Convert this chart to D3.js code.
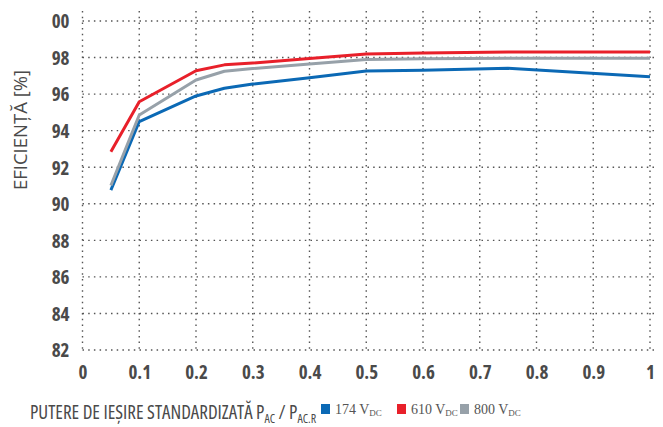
<!DOCTYPE html>
<html>
<head>
<meta charset="utf-8">
<script src="https://cdn.jsdelivr.net/npm/d3@7"></script>
<style>
  body { margin: 0; background: #fff; }
  svg text { font-family: "Open Sans", "DejaVu Sans Condensed", sans-serif; }
</style>
</head>
<body>
<div id="chart"></div>
<script>
// valori
var xVals = [0.05, 0.1, 0.2, 0.25, 0.3, 0.4, 0.5, 0.6, 0.75, 1];
var v174 = [90.75, 94.5, 95.9, 96.32, 96.55, 96.9, 97.26, 97.3, 97.41, 96.95];
var v610 = [92.85, 95.58, 97.28, 97.6, 97.7, 97.95, 98.2, 98.25, 98.3, 98.3];
var v800 = [91.0, 94.86, 96.77, 97.25, 97.4, 97.65, 97.9, 97.93, 97.96, 97.96];
var xTicks = [0, 0.1, 0.2, 0.3, 0.4, 0.5, 0.6, 0.7, 0.8, 0.9, 1];
var yTicks = [82, 84, 86, 88, 90, 92, 94, 96, 98, 100];
var seriesNames = ["174", "610", "800"];
var seriesColors = ["#0b69b5", "#e8202a", "#97a1a9"];

var width = 663, height = 427;
var svg = d3.select("#chart").append("svg")
    .attr("width", width)
    .attr("height", height);

var x = d3.scaleLinear().domain([0, 1]).range([82.5, 650]);
var y = d3.scaleLinear().domain([82, 100]).range([350, 21]);

// grila punctata
var grid = svg.append("g");
grid.selectAll("line.v")
    .data(xTicks)
    .join("line")
    .attr("x1", d => x(d)).attr("x2", d => x(d))
    .attr("y1", 11).attr("y2", 352)
    .attr("stroke", "#555")
    .attr("stroke-width", 1.4)
    .attr("stroke-dasharray", "1.5,4.2");
grid.selectAll("line.h")
    .data(yTicks)
    .join("line")
    .attr("x1", x(0)).attr("x2", 658)
    .attr("y1", d => y(d)).attr("y2", d => y(d))
    .attr("stroke", "#555")
    .attr("stroke-width", 1.4)
    .attr("stroke-dasharray", "1.5,4.2");

// axe (doar etichete)
var yAxis = svg.append("g")
    .attr("transform", `translate(${x(0) - 10},0)`)
    .call(d3.axisLeft(y).tickValues(yTicks).tickSize(0)
        .tickFormat(d => d == 100 ? "00" : d));
var xAxis = svg.append("g")
    .attr("transform", `translate(0,${y(82) + 10})`)
    .call(d3.axisBottom(x).tickValues(xTicks).tickSize(0)
        .tickFormat(d => d == 0 || d == 1 ? d : d3.format(".1f")(d)));
[yAxis, xAxis].forEach(a => {
    a.select(".domain").remove();
    a.selectAll("text")
        .attr("fill", "#4a4a4a")
        .style("font-size", "19px")
        .style("font-weight", "bold")
        .style("font-stretch", "condensed");
});
yAxis.selectAll("text").attr("dy", "0.36em");
xAxis.selectAll("text").attr("dy", "0.85em");

// linii
var series = [v174, v610, v800];
var line = d3.line()
    .x((d, i) => x(xVals[i]))
    .y(d => y(d));
[0, 2, 1].forEach(k => {
    svg.append("path")
        .datum(series[k])
        .attr("d", line)
        .attr("fill", "none")
        .attr("stroke", seriesColors[k])
        .attr("stroke-width", 3)
        .attr("stroke-linejoin", "round");
});

// titlu axa Y
svg.append("text")
    .attr("transform", "translate(27,130) rotate(-90)")
    .attr("text-anchor", "middle")
    .attr("fill", "#4a4a4a")
    .style("font-size", "18.5px")
    .text("EFICIENȚĂ [%]");

// titlu axa X
var xt = svg.append("text")
    .attr("x", 30).attr("y", 419)
    .attr("fill", "#4a4a4a")
    .style("font-size", "19px")
    .style("font-stretch", "condensed");
xt.append("tspan").text("PUTERE DE IEȘIRE STANDARDIZATĂ P");
xt.append("tspan").attr("dy", 4).style("font-size", "12px").text("AC");
xt.append("tspan").attr("dy", -4).text(" / P");
xt.append("tspan").attr("dy", 4).style("font-size", "12px").text("AC.R");

// legenda
var legX = [321, 397, 460];
var leg = svg.append("g");
seriesNames.forEach((n, i) => {
    leg.append("rect")
        .attr("x", legX[i]).attr("y", 404)
        .attr("width", 9).attr("height", 10)
        .attr("fill", seriesColors[i]);
    var t = leg.append("text")
        .attr("x", legX[i] + 14).attr("y", 414)
        .attr("fill", "#555")
        .style("font-family", "'Liberation Serif', serif")
        .style("font-size", "14px");
    t.append("tspan").text(n + " V");
    t.append("tspan").attr("dy", 2).style("font-size", "9px").text("DC");
});
</script>
</body>
</html>
